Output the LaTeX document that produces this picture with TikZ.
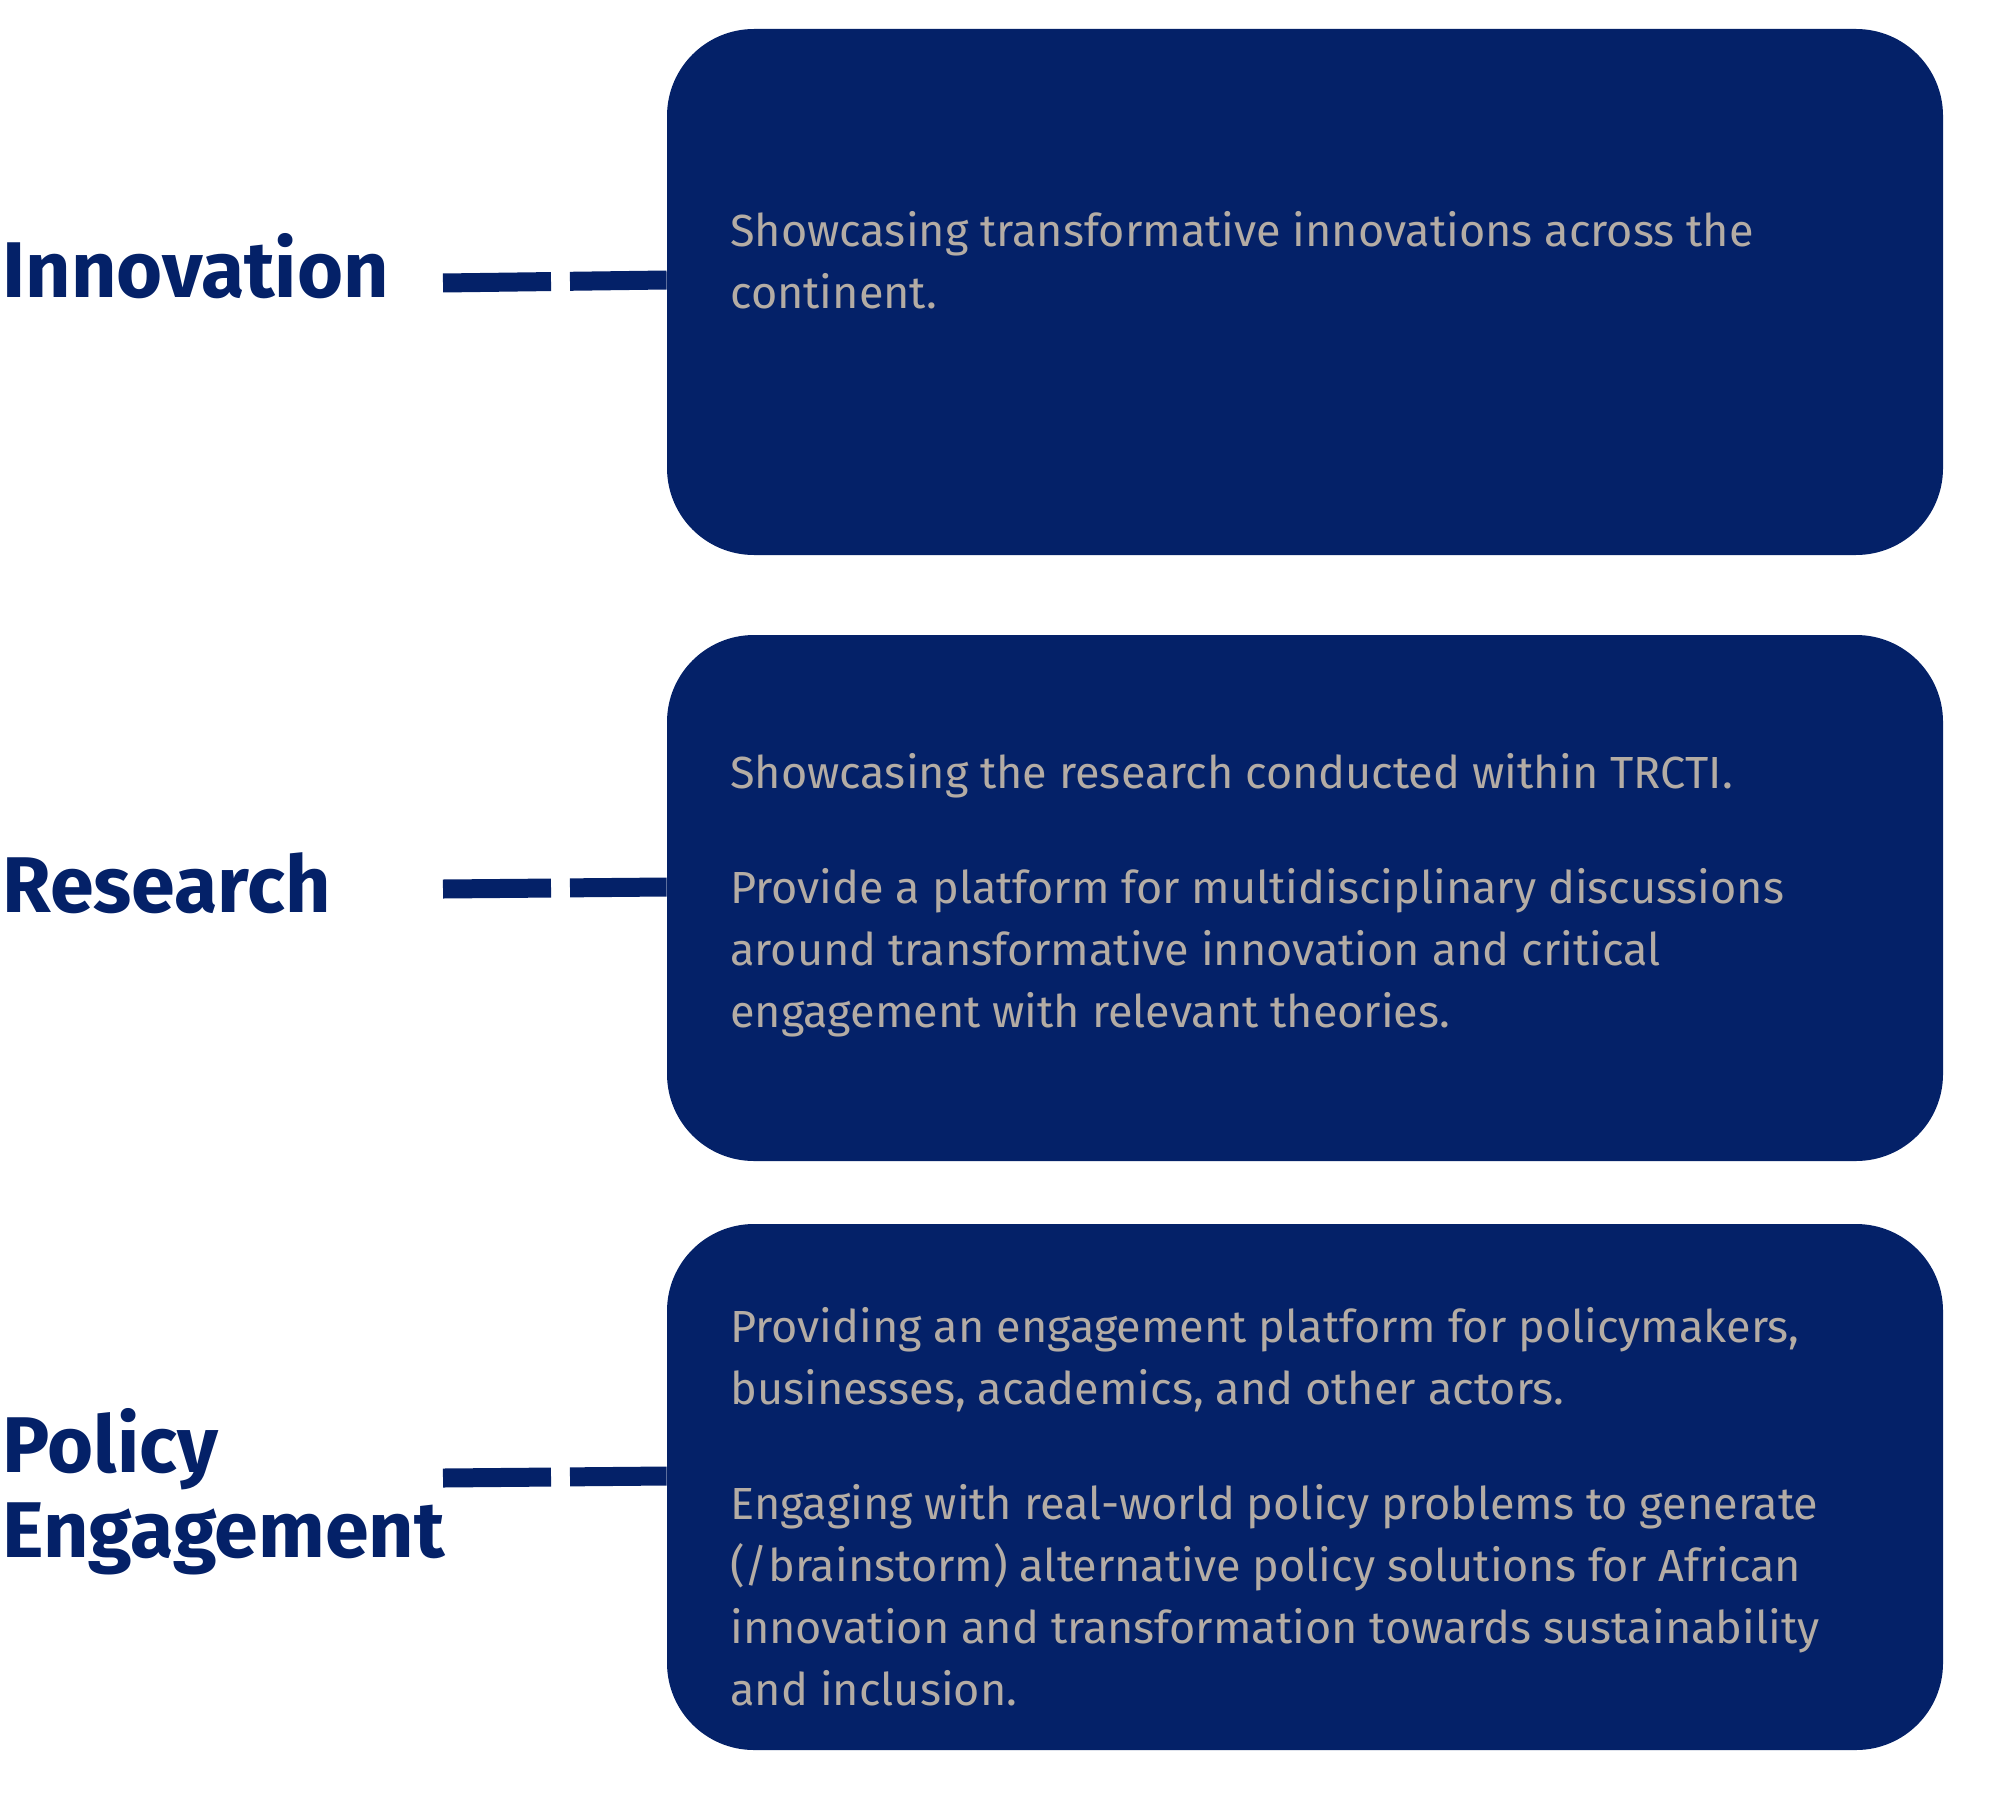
\documentclass[tikz,border=0pt]{standalone}
\usepackage{fontspec}
\setmainfont{Fira Sans}
\usetikzlibrary{calc}
\definecolor{navy}{RGB}{4,33,104}
\definecolor{desc}{RGB}{180,172,164}
\begin{document}
\begin{tikzpicture}[x=0.5pt,y=-0.5pt,
  card/.style={fill=navy, draw=none, rounded corners=43.5pt, minimum width=638pt, minimum height=263pt, inner sep=0pt},
  lbl/.style={anchor=base west, inner sep=0pt, text=navy, font=\fontsize{39.5pt}{42.5pt}\selectfont\bfseries},
  dtext/.style={anchor=base west, inner sep=0pt, text=desc, font=\fontsize{22.5pt}{31pt}\selectfont},
  conn/.style={draw=navy, line width=9.5pt, dash pattern=on 54pt off 9.5pt on 60pt}]
\useasboundingbox (0,0) rectangle (2000,1813);
% cards
\node[card] (box1) at (1305,292) {};
\node[card] (box2) at (1305,898) {};
\node[card] (box3) at (1305,1487) {};
% labels
\node[lbl] (l1) at (2,298) {Innovation};
\node[lbl] (l2) at (2,912) {Research};
\node[lbl] (l3) at (2,1472) {\parbox[t]{300pt}{\raggedright Policy\\Engagement}};
% connectors
\coordinate (c1) at (443,283);
\coordinate (c2) at (443,889);
\coordinate (c3) at (443,1478);
\draw[conn] (c1) -- ($(c1 -| box1.west)+(0,-3)$);
\draw[conn] (c2) -- ($(c2 -| box2.west)+(0,-2)$);
\draw[conn] (c3) -- ($(c3 -| box3.west)+(0,-2)$);
% descriptions
\node[dtext] (d1) at (730,247) {\parbox[t]{600pt}{\raggedright
Showcasing transformative innovations across the\\
continent.}};
\node[dtext] (d2) at (730,788) {\parbox[t]{600pt}{\raggedright
Showcasing the research conducted within TRCTI.\\[26.5pt]
Provide a platform for multidisciplinary discussions\\
around transformative innovation and critical\\
engagement with relevant theories.}};
\node[dtext] (d3) at (730,1342) {\parbox[t]{600pt}{\raggedright
Providing an engagement platform for policymakers,\\
businesses, academics, and other actors.\\[26.5pt]
Engaging with real-world policy problems to generate\\
(/brainstorm) alternative policy solutions for African\\
innovation and transformation towards sustainability\\
and inclusion.}};
\end{tikzpicture}
\end{document}
